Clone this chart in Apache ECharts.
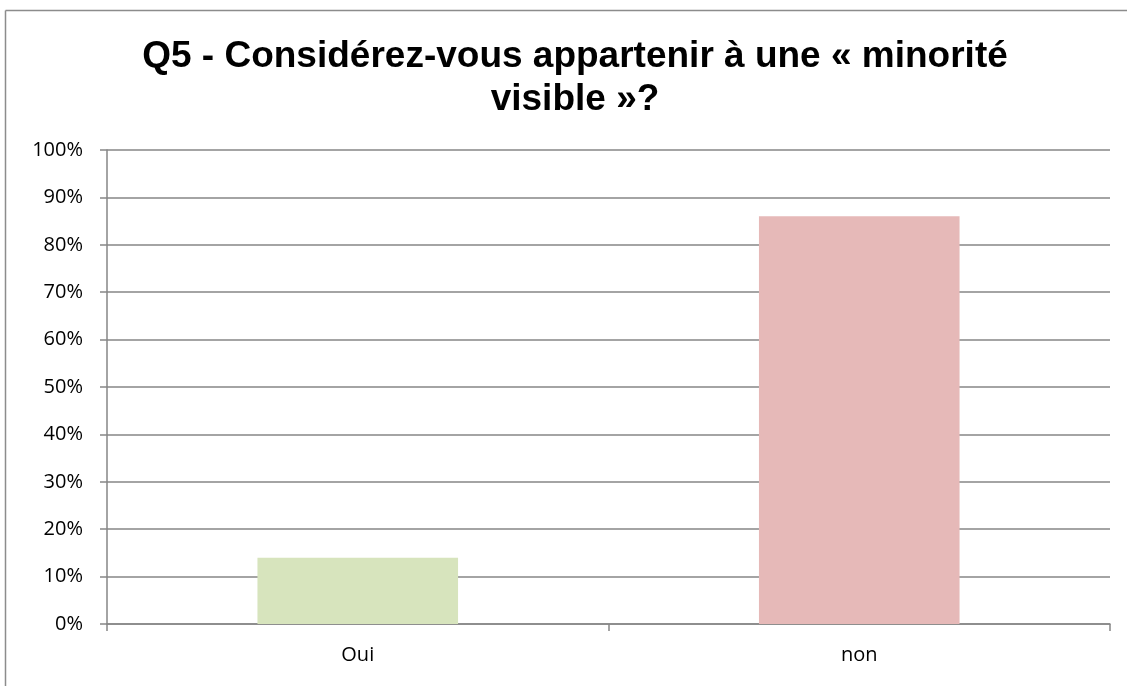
<!DOCTYPE html>
<html>
<head>
    <meta charset="utf-8">
    <title>Q5</title>
    <script src="https://cdn.jsdelivr.net/npm/echarts@6/dist/echarts.min.js"></script>
    <style>
        html, body { margin: 0; padding: 0; background: #fff; }
        #main { width: 1127px; height: 686px; }
    </style>
</head>
<body>
<div id="main"></div>
<script type="text/javascript">
    var categories = ['Oui', 'non'];
    var values = [14, 86];
    var barColors = ['#d7e4bd', '#e6b9b8'];

    var myChart = echarts.init(document.getElementById('main'));
    var option = {
        backgroundColor: '#fff',
        animation: false,
        title: {
            text: 'Q5 - Considérez-vous appartenir à une « minorité\nvisible »?',
            left: 570,
            textAlign: 'center',
            top: 30,
            textStyle: {
                fontFamily: 'Liberation Sans, Arial',
                fontWeight: 'bold',
                fontSize: 37,
                lineHeight: 43,
                color: '#000'
            }
        },
        graphic: [
            // cadre du graphique (seuls les bords haut et gauche sont visibles)
            { type: 'line', shape: { x1: 5.5, y1: 10.5, x2: 1127, y2: 10.5 }, style: { stroke: '#8c8c8c', lineWidth: 1.5 } },
            { type: 'line', shape: { x1: 5.5, y1: 10.5, x2: 5.5, y2: 686 }, style: { stroke: '#8c8c8c', lineWidth: 1.5 } }
        ],
        grid: {
            left: 107,
            right: 17,
            top: 150,
            bottom: 62
        },
        xAxis: {
            type: 'category',
            data: categories,
            boundaryGap: true,
            axisLine: { lineStyle: { color: '#868686', width: 1.5 } },
            axisTick: { show: true, length: 7, lineStyle: { color: '#868686', width: 1.5 } },
            axisLabel: { color: '#000', fontSize: 20, fontFamily: 'Open Sans', margin: 21 }
        },
        yAxis: {
            type: 'value',
            min: 0,
            max: 100,
            interval: 10,
            axisLine: { show: true, lineStyle: { color: '#868686', width: 1.5 } },
            axisTick: { show: true, length: 7, lineStyle: { color: '#868686', width: 1.5 } },
            splitLine: { lineStyle: { color: '#868686', width: 1.5 } },
            axisLabel: {
                color: '#000',
                fontSize: 20,
                fontFamily: 'Open Sans',
                margin: 24,
                formatter: '{value}%'
            }
        },
        series: [{
            type: 'bar',
            barWidth: '40%',
            data: values.map(function (v, i) {
                return { value: v, itemStyle: { color: barColors[i] } };
            })
        }]
    };
    myChart.setOption(option);
</script>
</body>
</html>
